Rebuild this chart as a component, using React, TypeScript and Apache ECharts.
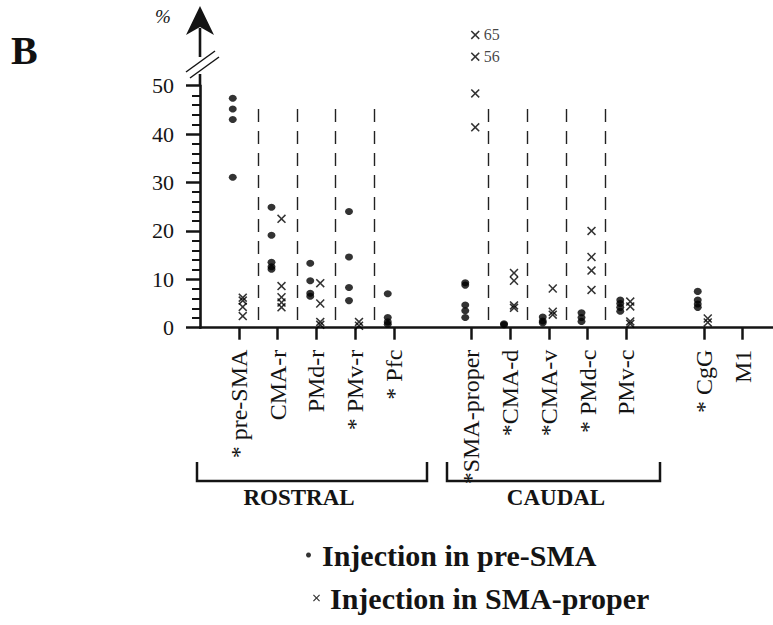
import React, { useEffect, useRef } from 'react';
import * as echarts from 'echarts';

// Category slots along the x axis ("gap" slots are empty spacers)
const categories = ['gap0', 'pre-SMA', 'CMA-r', 'PMd-r', 'PMv-r', 'Pfc', 'gap1', 'SMA-proper', 'CMA-d', 'CMA-v', 'PMd-c', 'PMv-c', 'gap2', 'CgG', 'M1', 'gap3'];
const tickLabels: Record<string, string> = {
  'pre-SMA': '* pre-SMA', 'CMA-r': 'CMA-r', 'PMd-r': 'PMd-r', 'PMv-r': '* PMv-r', 'Pfc': '* Pfc',
  'SMA-proper': '*SMA-proper', 'CMA-d': '*CMA-d', 'CMA-v': '*CMA-v', 'PMd-c': '* PMd-c', 'PMv-c': 'PMv-c',
  'CgG': '* CgG', 'M1': 'M1',
};

// Injection in pre-SMA (dots), % per region
const preSmaDots: [string, number[]][] = [
  ['pre-SMA', [47.4, 45.2, 43.0, 31.1]],
  ['CMA-r', [24.9, 19.1, 13.5, 12.6, 12.1]],
  ['PMd-r', [13.3, 9.7, 7.1, 6.5]],
  ['PMv-r', [24.0, 14.6, 8.3, 5.6]],
  ['Pfc', [7.0, 2.1, 1.2, 0.7]],
  ['SMA-proper', [9.3, 8.8, 4.7, 3.5, 2.1]],
  ['CMA-d', [0.8, 0.6]],
  ['CMA-v', [2.2, 1.4, 1.0]],
  ['PMd-c', [3.1, 2.1, 1.3]],
  ['PMv-c', [5.7, 5.0, 4.2, 3.4]],
  ['CgG', [7.5, 5.7, 4.9, 4.2]],
];

// Injection in SMA-proper (crosses), % per region
const smaProperCrosses: [string, number[]][] = [
  ['pre-SMA', [6.2, 5.6, 4.3, 2.4]],
  ['CMA-r', [22.5, 8.6, 6.3, 5.2, 4.2]],
  ['PMd-r', [9.2, 5.0, 1.2, 0.6]],
  ['PMv-r', [1.2, 0.4]],
  ['SMA-proper', [65, 56, 48.4, 41.4]],
  ['CMA-d', [11.3, 9.7, 4.6, 4.1]],
  ['CMA-v', [8.1, 3.3, 2.7]],
  ['PMd-c', [20.0, 14.6, 11.8, 7.8]],
  ['PMv-c', [5.4, 4.4, 1.3, 0.8]],
  ['CgG', [1.9, 1.1]],
];

// dashed separators between regions (x position in slot units)
const separators = [1.5, 2.5, 3.5, 4.5, 7.45, 8.45, 9.45, 10.45];

// broken y axis: values above breakAt are compressed
const breakAt = 56;
const breakFactor = 0.5;
const plotY = (v: number) => (v <= breakAt ? v : breakAt + (v - breakAt) * breakFactor);

const FONT = '"Liberation Serif", "Times New Roman", serif';
const INK = '#141414';
const CROSS = 'path://M0,1.2L1.2,0L5,3.8L8.8,0L10,1.2L6.2,5L10,8.8L8.8,10L5,6.2L1.2,10L0,8.8L3.8,5Z';

export default function App() {
  const ref = useRef<HTMLDivElement>(null);
  useEffect(() => {
    if (!ref.current) return;
    const chart = echarts.init(ref.current, undefined, { renderer: 'svg' });
    const dotData: any[] = [];
    preSmaDots.forEach(([r, vals]) => vals.forEach((v) => dotData.push([r, v])));
    const crossData: any[] = [];
    smaProperCrosses.forEach(([r, vals]) => vals.forEach((v) => crossData.push([r, plotY(v), v])));

    chart.setOption({
      animation: false,
      textStyle: { fontFamily: FONT },
      title: {
        text: 'B', left: 11, top: 30, padding: 0,
        textStyle: { fontFamily: FONT, fontSize: 40, fontWeight: 'bold', color: '#111' },
      },
      legend: [
        {
          data: [{ name: 'Injection in pre-SMA', icon: 'circle' }],
          left: 306, top: 539, padding: 0, itemWidth: 5, itemHeight: 5, selectedMode: false,
          textStyle: { fontFamily: FONT, fontSize: 30, fontWeight: 'bold', color: INK, lineHeight: 32, padding: [0, 0, 0, 6] },
        },
        {
          data: [{ name: 'Injection in SMA-proper', icon: CROSS }],
          left: 313, top: 582, padding: 0, itemWidth: 7, itemHeight: 7, selectedMode: false,
          textStyle: { fontFamily: FONT, fontSize: 30, fontWeight: 'bold', color: INK, lineHeight: 32, padding: [0, 0, 0, 5] },
        },
      ],
      grid: { left: 200, top: 85.7, width: 581.25, height: 242, outerBoundsMode: 'none', containLabel: false },
      xAxis: [
        {
          type: 'category', data: categories, boundaryGap: false,
          axisLine: { lineStyle: { color: INK, width: 2.6 } },
          axisTick: { show: true, length: 12, interval: (_i: number, v: string) => !v.startsWith('gap'), lineStyle: { color: INK, width: 2.5 } },
          axisLabel: {
            interval: 0, rotate: 90, margin: 22, fontFamily: FONT, fontSize: 24, color: INK,
            formatter: (v: string) => tickLabels[v] || '',
          },
          splitLine: { show: false },
        },
        { type: 'value', min: 0, max: 15, show: false },
      ],
      yAxis: {
        type: 'value', min: 0, max: 50, interval: 10,
        name: '%', nameLocation: 'end', nameGap: 60,
        nameTextStyle: { fontFamily: FONT, fontSize: 19, fontStyle: 'italic', color: INK, padding: [0, 74, 0, 0] },
        axisLine: { show: true, lineStyle: { color: INK, width: 2.6 } },
        axisTick: { show: true, length: 14, lineStyle: { color: INK, width: 2.5 } },
        minorTick: { show: true, splitNumber: 5, length: 8, lineStyle: { color: INK, width: 2 } },
        axisLabel: { margin: 26, fontFamily: FONT, fontSize: 22, color: INK },
        splitLine: { show: false },
      },
      series: [
        {
          type: 'scatter', name: 'separators', xAxisIndex: 1, data: [], silent: true,
          markLine: {
            silent: true, symbol: ['none', 'none'], label: { show: false },
            lineStyle: { color: '#222', width: 1.4, type: [13, 9] },
            data: separators.map((x) => [{ coord: [x, 1.6] }, { coord: [x, 46.5] }]),
          },
        },
        {
          type: 'scatter', name: 'Injection in pre-SMA', data: dotData, clip: false,
          symbol: 'circle', symbolSize: [8, 7], symbolOffset: [-6, 0],
          itemStyle: { color: '#000' },
        },
        {
          type: 'scatter', name: 'Injection in SMA-proper', data: crossData, clip: false,
          symbol: CROSS, symbolSize: [9, 9], symbolOffset: [4, 0],
          itemStyle: { color: '#000' },
          label: {
            show: true, position: 'right', distance: 4, fontFamily: FONT, fontSize: 16, color: INK,
            formatter: (p: any) => (p.value[2] > 50 ? String(p.value[2]) : ''),
          },
        },
      ],
      graphic: [
        { type: 'line', shape: { x1: 200, y1: 86, x2: 200, y2: 74 }, style: { stroke: INK, lineWidth: 2.6 } },
        { type: 'line', shape: { x1: 200, y1: 57, x2: 200, y2: 28 }, style: { stroke: INK, lineWidth: 2.6 } },
        { type: 'polygon', shape: { points: [[200, 6], [186, 35], [200, 27], [214, 35]] }, style: { fill: INK } },
        { type: 'line', shape: { x1: 186, y1: 72, x2: 215, y2: 51 }, style: { stroke: INK, lineWidth: 1.5 } },
        { type: 'line', shape: { x1: 190, y1: 78, x2: 219, y2: 57 }, style: { stroke: INK, lineWidth: 1.5 } },
        { type: 'polyline', shape: { points: [[197, 462], [197, 481], [427, 481], [427, 462]] }, style: { stroke: INK, lineWidth: 2.5, fill: 'none' } },
        { type: 'polyline', shape: { points: [[447, 462], [447, 481], [660, 481], [660, 462]] }, style: { stroke: INK, lineWidth: 2.5, fill: 'none' } },
        { type: 'text', x: 299, y: 497, style: { text: 'ROSTRAL', fontFamily: FONT, fontSize: 23, fontWeight: 'bold', fill: INK, align: 'center', verticalAlign: 'middle' } },
        { type: 'text', x: 556, y: 497, style: { text: 'CAUDAL', fontFamily: FONT, fontSize: 23, fontWeight: 'bold', fill: INK, align: 'center', verticalAlign: 'middle' } },
      ],
    });
    return () => chart.dispose();
  }, []);
  return <div ref={ref} style={{ position: 'absolute', left: 0, top: 0, width: 773, height: 625 }} />;
}
